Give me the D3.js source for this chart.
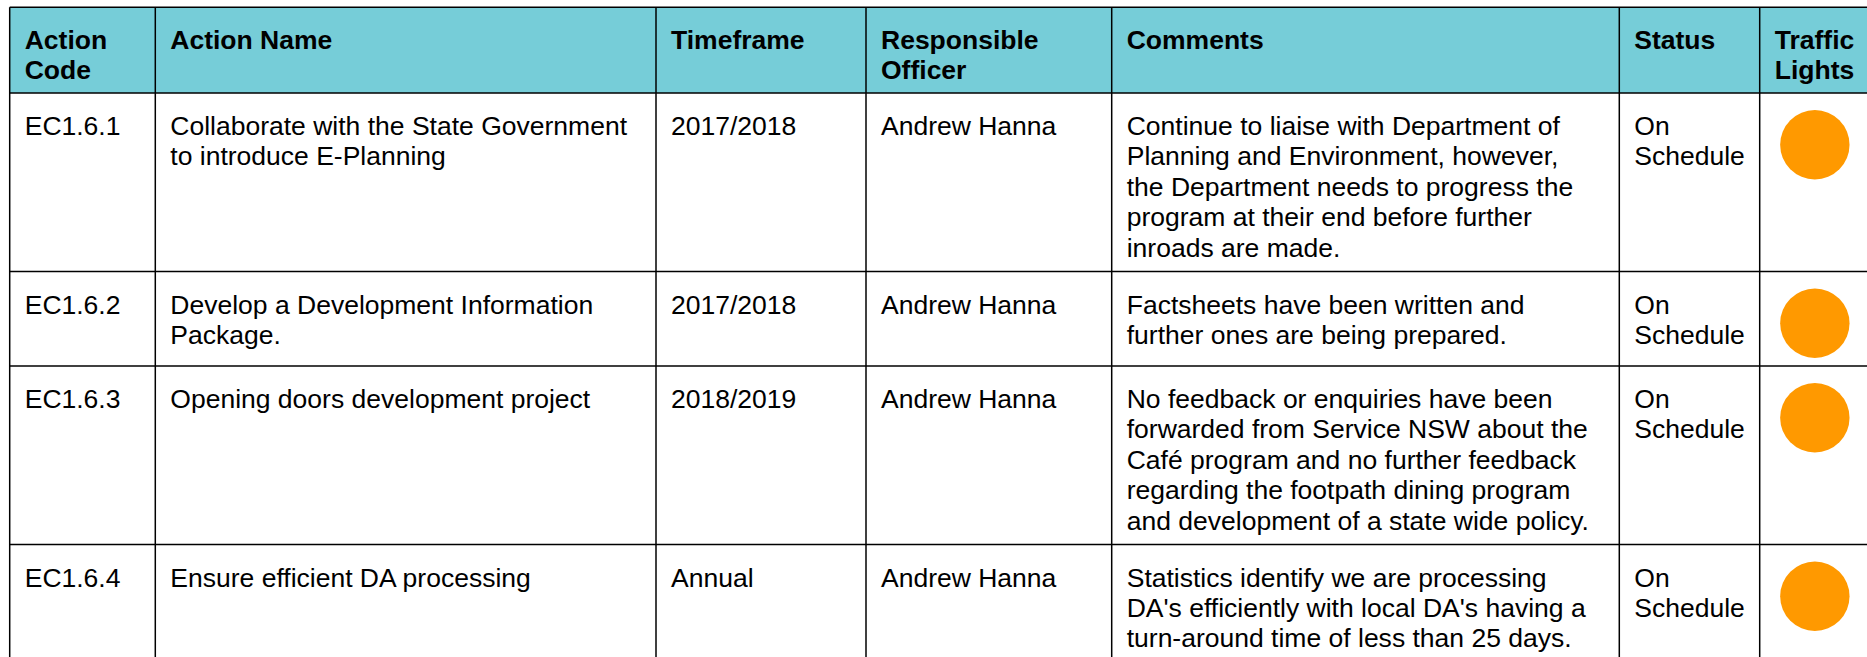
<!DOCTYPE html>
<html>
<head>
<meta charset="utf-8">
<script src="https://cdn.jsdelivr.net/npm/d3@7"></script>
<style>
  html, body { margin: 0; padding: 0; background: #ffffff; }
  svg { display: block; }
</style>
</head>
<body>
<svg id="chart" width="1867" height="657"></svg>
<script>
// ---- Data ----
const headers = [["Action", "Code"], ["Action Name"], ["Timeframe"], ["Responsible", "Officer"], ["Comments"], ["Status"], ["Traffic", "Lights"]];
const codes = ["EC1.6.1", "EC1.6.2", "EC1.6.3", "EC1.6.4"];
const names = [
  ["Collaborate with the State Government", "to introduce E-Planning"],
  ["Develop a Development Information", "Package."],
  ["Opening doors development project"],
  ["Ensure efficient DA processing"]
];
const timeframes = ["2017/2018", "2017/2018", "2018/2019", "Annual"];
const officers = ["Andrew Hanna", "Andrew Hanna", "Andrew Hanna", "Andrew Hanna"];
const comments = [
  ["Continue to liaise with Department of", "Planning and Environment, however,", "the Department needs to progress the", "program at their end before further", "inroads are made."],
  ["Factsheets have been written and", "further ones are being prepared."],
  ["No feedback or enquiries have been", "forwarded from Service NSW about the", "Café program and no further feedback", "regarding the footpath dining program", "and development of a state wide policy."],
  ["Statistics identify we are processing", "DA's efficiently with local DA's having a", "turn-around time of less than 25 days."]
];
const statuses = [["On", "Schedule"], ["On", "Schedule"], ["On", "Schedule"], ["On", "Schedule"]];
const lights = ["amber", "amber", "amber", "amber"];

// ---- Layout ----
const colWidths = [145.6, 500.7, 210, 245.7, 507.6, 140.4, 110.3];
const tableLeft = 9.7, tableTop = 7.3;
const headerHeight = 85.7;
const fontSize = 25.5, lineGap = 30.4, firstBaseline = 42, bottomPad = 15;
const textStretch = 1.04;
const padX = 15;
const lightR = 34.7, lightCy = 51.7, lightMinRow = 94.4;
const lightColor = d3.scaleOrdinal().domain(["green", "amber", "red"]).range(["#2db34a", "#ff9900", "#e02020"]);

const colEdges = [tableLeft, ...d3.cumsum(colWidths).map(v => v + tableLeft)];
const rows = codes.map((c, i) => [[c], names[i], [timeframes[i]], [officers[i]], comments[i], statuses[i]]);
const rowHeights = rows.map(r => Math.max(firstBaseline + (d3.max(r, cell => cell.length) - 1) * lineGap + bottomPad, lightMinRow));
const rowEdges = [tableTop, tableTop + headerHeight];
rowHeights.forEach(h => rowEdges.push(rowEdges[rowEdges.length - 1] + h));

const svg = d3.select("#chart");
const font = "'Liberation Sans', Arial, Helvetica, sans-serif";

function cellText(lines, x, y0, bold) {
  const t = svg.append("text")
    .attr("transform", `translate(${x},0) scale(${textStretch},1)`)
    .attr("font-family", font).attr("font-size", fontSize)
    .attr("font-weight", bold ? "bold" : "normal")
    .attr("fill", "#000");
  lines.forEach((ln, k) => {
    t.append("tspan").attr("x", 0).attr("y", y0 + k * lineGap).text(ln);
  });
}

// header background
svg.append("rect")
  .attr("x", colEdges[0]).attr("y", rowEdges[0])
  .attr("width", colEdges[colEdges.length - 1] - colEdges[0])
  .attr("height", headerHeight)
  .attr("fill", "#76cdd8");

// header text
headers.forEach((lines, j) => cellText(lines, colEdges[j] + padX, rowEdges[0] + 41.7, true));

// body
rows.forEach((r, i) => {
  const top = rowEdges[i + 1];
  r.forEach((lines, j) => cellText(lines, colEdges[j] + padX, top + firstBaseline, false));
  svg.append("circle")
    .attr("cx", (colEdges[6] + colEdges[7]) / 2)
    .attr("cy", top + lightCy)
    .attr("r", lightR)
    .attr("fill", lightColor(lights[i]));
});

// grid lines
const bottom = rowEdges[rowEdges.length - 1];
const right = colEdges[colEdges.length - 1];
svg.append("g").selectAll("line").data(colEdges).join("line")
  .attr("x1", d => d).attr("x2", d => d)
  .attr("y1", rowEdges[0]).attr("y2", bottom)
  .attr("stroke", "#000").attr("stroke-width", 1.5);
svg.append("g").selectAll("line").data(rowEdges).join("line")
  .attr("x1", colEdges[0]).attr("x2", right)
  .attr("y1", d => d).attr("y2", d => d)
  .attr("stroke", "#000").attr("stroke-width", 1.5);
</script>
</body>
</html>
